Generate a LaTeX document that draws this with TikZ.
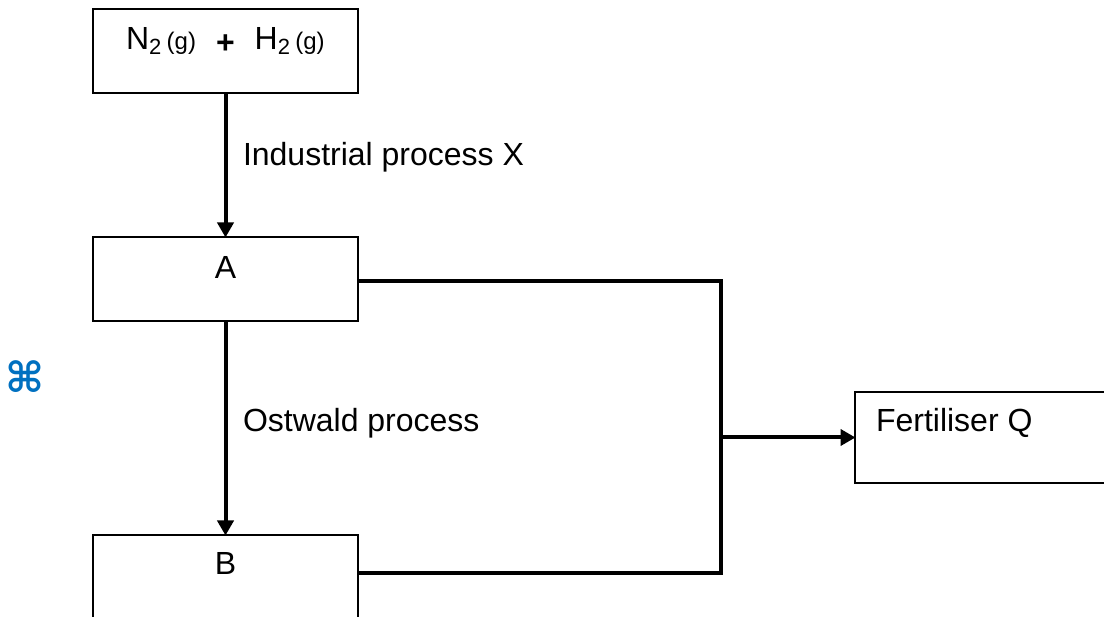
\documentclass[tikz,border=0pt]{standalone}
\usepackage{fontspec}
\setmainfont{Liberation Sans}
\newfontfamily\symfont{DejaVu Sans Bold}
\usetikzlibrary{arrows.meta}
\definecolor{cmdblue}{HTML}{0070C0}
\begin{document}
\begin{tikzpicture}[x=1pt,y=-1pt,
  boxnode/.style={draw=black,line width=2.4pt,rectangle,inner sep=0pt,outer sep=0pt},
  txt/.style={inner sep=0pt,outer sep=0pt,anchor=base,font=\fontsize{32}{36}\selectfont},
  txtl/.style={txt,anchor=base west},
  conn/.style={draw=black,line width=4pt,line join=miter},
  arr/.style={conn,-{Triangle[length=15pt,width=16pt]},shorten >=-0.5pt}]
\useasboundingbox (0,0) rectangle (1104,617);
\clip (0,0) rectangle (1104,617);
\node[boxnode,minimum width=265pt,minimum height=84pt] (top) at (225.5,51) {};
\node[boxnode,minimum width=265pt,minimum height=84pt] (a) at (225.5,279) {};
\node[boxnode,minimum width=265pt,minimum height=100pt] (b) at (225.5,585) {};
\node[boxnode,minimum width=259.5pt,minimum height=91pt] (q) at (984.75,437.5) {};
\node[txtl] (tt) at (126,50) {N\raisebox{-5pt}{\fontsize{22}{24}\selectfont 2}\,{\fontsize{24}{26}\selectfont (g)}\hspace{20pt}\raisebox{-3.5pt}{\bfseries +}\hspace{20pt}H\raisebox{-5pt}{\fontsize{22}{24}\selectfont 2}\,{\fontsize{24}{26}\selectfont (g)}};
\node[txt] (ta) at (225.5,279) {A};
\node[txt] (tb) at (225.5,574) {B};
\node[txtl] (tq) at (876,432) {Fertiliser Q};
\node[txtl] (lx) at (243,166) {Industrial process X};
\node[txtl] (lo) at (243,432) {Ostwald process};
\node[inner sep=0pt,outer sep=0pt,text=cmdblue,font=\symfont\fontsize{42}{44}\selectfont] (cmd) at (25,377) {⌘};
\coordinate (aE) at (358,281);
\coordinate (bE) at (358,573);
\coordinate (c1) at (721,281);
\coordinate (c2) at (721,573);
\draw[arr] (top.south) -- (a.north);
\draw[arr] (a.south) -- (b.north);
\draw[conn] (aE) -- (c1) -- (c2) -- (bE);
\draw[arr] (c1 |- q.west) -- (q.west);
\end{tikzpicture}
\end{document}
